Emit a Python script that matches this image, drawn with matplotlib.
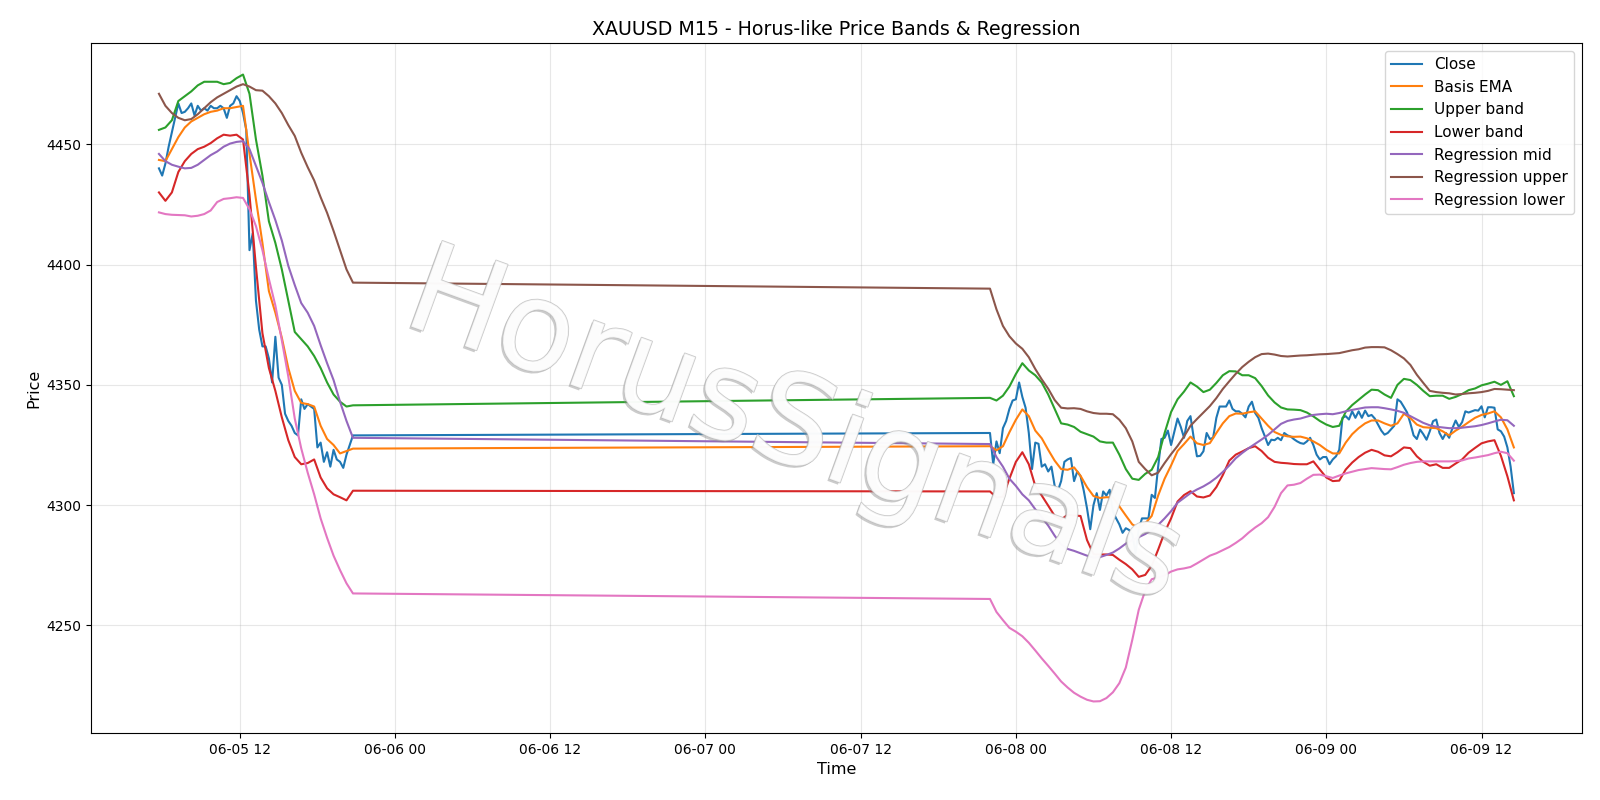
import pandas as pd
import matplotlib
matplotlib.use("Agg")
import matplotlib.pyplot as plt
import matplotlib.dates as mdates
import matplotlib.patheffects as pe

# Close price, M15 bars (Friday session, then from the Sunday open)
close_fri = [4440, 4437, 4442, 4449, 4455, 4461, 4467, 4463, 4463.5, 4465,
             4467, 4462, 4466, 4464, 4465, 4464, 4466, 4465, 4465, 4466,
             4465, 4461, 4466, 4467, 4470, 4468, 4463, 4456, 4406, 4413,
             4385, 4373, 4366, 4366, 4361, 4351, 4370, 4353, 4350, 4338,
             4335, 4333, 4330, 4329, 4344, 4340, 4342, 4341, 4340, 4324,
             4326, 4318, 4322, 4316, 4323, 4319, 4318, 4315.5, 4321, 4325, 4329]
close_sun = [4330, 4317, 4326.5, 4321.6, 4332, 4335, 4340, 4343.5, 4344, 4351,
             4345, 4340.5, 4330, 4315, 4326, 4325.5, 4316, 4317, 4314, 4316,
             4308, 4306, 4310, 4318, 4319, 4319.6, 4310, 4314, 4312, 4306,
             4298.7, 4290, 4300, 4305, 4298, 4305.7, 4304, 4306.4, 4297.3, 4294.5,
             4292, 4288.5, 4290.4, 4289.7, 4288, 4280, 4290, 4294.5, 4294.5, 4294.5,
             4304.3, 4303, 4316, 4327.5, 4328, 4331, 4325, 4330.5, 4336, 4332.5,
             4328, 4335, 4337, 4328, 4320.3, 4320.5, 4322.4, 4330, 4327.5, 4328,
             4336.3, 4341, 4341, 4341, 4343.5, 4340, 4339, 4339, 4338, 4336.5,
             4341, 4343, 4338.3, 4336.3, 4332, 4328.6, 4325, 4327.2, 4327, 4328,
             4327, 4330, 4329, 4328.5, 4327.4, 4326.5, 4325.8, 4325.5, 4326.5, 4328,
             4325, 4321, 4319, 4320, 4320, 4317, 4319, 4320.3, 4323, 4336.3,
             4337, 4335.6, 4339, 4336.3, 4339, 4336.3, 4339.3, 4337, 4337.5, 4336,
             4333.5, 4331, 4329.3, 4330, 4331.5, 4333, 4344, 4343, 4340.8, 4338.5,
             4334, 4329, 4327.5, 4331.4, 4329.5, 4327.2, 4330.7, 4334.9, 4335.6, 4330,
             4327.5, 4330, 4328, 4332, 4335.2, 4332.5, 4334.5, 4339, 4338.5, 4339,
             4339.5, 4339.3, 4341.1, 4336.5, 4340.7, 4340.7, 4340.5, 4331.5, 4330.7, 4328.5,
             4324, 4316, 4305]

# indicator lines, read every 30 minutes
ema = [4443.5, 4443, 4448, 4453, 4457, 4459.5, 4461, 4462.5, 4463.5, 4464,
       4465, 4465, 4465.5, 4466, 4446, 4427, 4409, 4389, 4380, 4369.6,
       4357, 4347.5, 4342.5, 4342, 4341, 4333, 4327.5, 4325, 4321.5, 4322.5, 4323.5,
       4324.5, 4322.8, 4324.5, 4330.3, 4335.5, 4339.8, 4337, 4331, 4327.8, 4323,
       4318.5, 4315, 4314.7, 4315.7, 4312.2, 4307.5, 4303.8, 4303, 4303.3, 4303.2,
       4299.5, 4295.7, 4292, 4290.5, 4292.4, 4295.5, 4304, 4311, 4316.5, 4322.5,
       4325.4, 4328.5, 4325.7, 4325, 4325.8, 4330, 4334, 4337, 4338.1, 4338,
       4338.6, 4339, 4336, 4333, 4330.4, 4329.2, 4328.6, 4328.4, 4328.5, 4327.8,
       4326.5, 4325, 4323, 4321.5, 4321.5, 4326, 4329.5, 4332, 4334, 4335.2,
       4335.2, 4334, 4333, 4334, 4338, 4336.2, 4333.5, 4332.4, 4332.2, 4332,
       4330.7, 4329, 4331, 4332.6, 4334.5, 4336.3, 4337.5, 4338.1, 4339, 4336.5,
       4331.5, 4324]
upper = [4456, 4457, 4460, 4468, 4470, 4472, 4474.5, 4476, 4476, 4476,
         4475, 4475.5, 4477.5, 4479, 4471, 4452, 4437, 4418, 4409, 4398,
         4385, 4372, 4369, 4366, 4362, 4357, 4351, 4346, 4343, 4341, 4341.5,
         4344.6, 4343.5, 4345.5, 4349.3, 4354.5, 4359, 4356, 4354, 4351, 4346,
         4340, 4334, 4333.5, 4332.5, 4330.5, 4329.5, 4328.5, 4326.5, 4326, 4326,
         4321, 4315, 4311, 4310.5, 4313, 4314.7, 4320, 4330, 4338.7, 4344,
         4347.2, 4351, 4349.3, 4347, 4348, 4350.8, 4354, 4355.7, 4355.6, 4354,
         4354, 4352.8, 4349.5, 4345.6, 4342.7, 4340.6, 4339.8, 4339.7, 4339.5, 4338.5,
         4336.9, 4335, 4333.5, 4332.5, 4333, 4338.8, 4341.6, 4343.8, 4346, 4348,
         4347.8, 4346, 4344.6, 4350, 4352.5, 4352, 4350, 4347.5, 4345.3, 4345.5,
         4345.5, 4344.2, 4345, 4346.2, 4347.8, 4348.5, 4349.8, 4350.5, 4351.3, 4350,
         4351.5, 4345.3]
lower = [4430, 4426.5, 4430, 4438.5, 4443, 4446, 4448, 4449, 4450.5, 4452.5,
         4454, 4453.6, 4454, 4452, 4429, 4399, 4371.5, 4357, 4347.5, 4336.5,
         4327, 4320, 4317, 4317.5, 4319, 4311.5, 4307, 4304.5, 4303.3, 4302, 4306,
         4305.7, 4303.2, 4303.5, 4311, 4318, 4322, 4317, 4308, 4304, 4299.8,
         4295.5, 4294, 4296, 4295.7, 4295.5, 4285.5, 4279.6, 4279.5, 4279.5, 4279.3,
         4277.3, 4275.5, 4273.3, 4270.2, 4271, 4274.8, 4281.5, 4288.7, 4294.5, 4301.5,
         4304.2, 4305.8, 4303.6, 4303.2, 4304, 4307.5, 4312.5, 4318.5, 4321, 4322.3,
         4323.7, 4324.5, 4322.5, 4319.7, 4318, 4317.6, 4317.4, 4317.1, 4317, 4317,
         4318.2, 4314.8, 4311.5, 4310, 4310.2, 4314.8, 4317.7, 4320, 4321.8, 4323,
         4322.2, 4320.7, 4320.3, 4322, 4324, 4323.7, 4320.3, 4318, 4316.4, 4317,
         4315.5, 4315.5, 4317.3, 4319, 4321.8, 4323.8, 4325.7, 4326.5, 4327, 4320.5,
         4312, 4302]
reg_mid = [4446, 4443, 4441.5, 4440.7, 4440, 4440.2, 4441.5, 4443.5, 4445.5, 4447,
           4449, 4450.3, 4451, 4451.3, 4448, 4441, 4434, 4426, 4418.5, 4410,
           4399.5, 4391.5, 4384, 4380, 4374.5, 4366.5, 4359, 4352, 4343, 4335, 4328,
           4325.4, 4320, 4316, 4311, 4308, 4304.5, 4302, 4298.3, 4295, 4291.5,
           4287.3, 4283.7, 4281.8, 4281, 4280, 4279, 4278.2, 4278.4, 4279.3, 4280.3,
           4282, 4284, 4285.5, 4286.7, 4288, 4289.6, 4291.8, 4294.5, 4297.5, 4301,
           4303, 4305, 4306.5, 4307.8, 4309.4, 4311.4, 4313.8, 4316.5, 4319.5, 4321.7,
           4323.7, 4325.5, 4327.3, 4329.2, 4331.5, 4333.8, 4335, 4335.6, 4336, 4336.8,
           4337.5, 4337.8, 4338, 4337.8, 4338.3, 4339, 4339.6, 4340.1, 4340.6, 4340.7,
           4340.7, 4340.3, 4339.8, 4339.2, 4338.4, 4337, 4335.6, 4334.2, 4333.2, 4332.6,
           4332.3, 4332, 4332, 4332.2, 4332.5, 4332.8, 4333.3, 4334, 4334.8, 4335.5,
           4335.3, 4333]
reg_upper = [4471, 4466, 4463, 4461, 4460, 4460.5, 4462.5, 4465, 4467.5, 4469.5,
             4471, 4472.5, 4474, 4475, 4474, 4472.5, 4472.3, 4470, 4467, 4463,
             4458, 4453.5, 4446.5, 4440.5, 4435, 4428, 4421.5, 4414, 4406, 4398, 4392.5,
             4390, 4381.4, 4374.5, 4370.2, 4367.2, 4365, 4361.5, 4356.6, 4352.3, 4348.4,
             4343.7, 4340.5, 4340.2, 4340.3, 4340, 4339, 4338.3, 4338, 4338, 4337.8,
             4335.5, 4332, 4326.5, 4318, 4315, 4312.4, 4313.5, 4317.5, 4321.2, 4324.6,
             4328.5, 4333, 4335.8, 4338.5, 4341.2, 4344.5, 4348.3, 4351.5, 4354.6, 4357.4,
             4359.6, 4361.5, 4362.8, 4363, 4362.6, 4362, 4361.8, 4362, 4362.2, 4362.3,
             4362.5, 4362.7, 4362.8, 4363, 4363.2, 4363.8, 4364.4, 4364.8, 4365.5, 4365.7,
             4365.7, 4365.6, 4364.4, 4362.8, 4361, 4358.3, 4354.2, 4350.8, 4347.5, 4347,
             4346.7, 4346.5, 4346, 4346.2, 4346.5, 4346.7, 4347, 4347.5, 4348.3, 4348.2,
             4348, 4347.8]
reg_lower = [4421.7, 4421, 4420.7, 4420.6, 4420.5, 4420, 4420.3, 4421, 4422.5, 4426,
             4427.3, 4427.6, 4428, 4427.7, 4423, 4416, 4406, 4394, 4383, 4368.5,
             4353.5, 4336, 4323.6, 4313.5, 4304.5, 4294.5, 4286.4, 4279, 4273, 4267.5, 4263.3,
             4261, 4255.6, 4252.2, 4249, 4247.4, 4245.5, 4242.8, 4239.6, 4236.3, 4233.2,
             4230, 4226.7, 4224.2, 4222, 4220.4, 4219.1, 4218.4, 4218.5, 4219.8, 4222.2,
             4226, 4232.5, 4244, 4256.5, 4264.5, 4269.2, 4270, 4270.8, 4272.4, 4273.3,
             4273.7, 4274.3, 4275.8, 4277.4, 4279, 4280, 4281.3, 4282.6, 4284.3, 4286.2,
             4288.6, 4290.7, 4292.5, 4295, 4299.3, 4305, 4308.2, 4308.5, 4309.2, 4311,
             4312.6, 4312.7, 4312, 4311.3, 4312.3, 4313.2, 4313.9, 4314.6, 4315, 4315.4,
             4315.2, 4315, 4314.9, 4315.8, 4316.8, 4317.5, 4318, 4318.2, 4318.2, 4318.2,
             4318.2, 4318.2, 4318.3, 4318.6, 4319.4, 4319.8, 4320.3, 4320.8, 4321.6, 4322.2,
             4321.6, 4318.5]

# bar times
t_fri = pd.date_range("2026-06-05 05:45", periods=len(close_fri), freq="15min")
t_sun = pd.date_range("2026-06-07 22:00", periods=len(close_sun), freq="15min")
t_close = t_fri.append(t_sun)
t_ind = t_fri[::2].append(t_sun[::2])
close = close_fri + close_sun

fig, ax = plt.subplots(figsize=(16, 8), dpi=100)
fig.subplots_adjust(left=0.057, right=0.9885, top=0.946, bottom=0.084)

ax.plot(t_close, close, label="Close")
ax.plot(t_ind, ema, label="Basis EMA")
ax.plot(t_ind, upper, label="Upper band")
ax.plot(t_ind, lower, label="Lower band")
ax.plot(t_ind, reg_mid, label="Regression mid")
ax.plot(t_ind, reg_upper, label="Regression upper")
ax.plot(t_ind, reg_lower, label="Regression lower")

ax.xaxis.set_major_locator(mdates.HourLocator(byhour=[0, 12]))
ax.xaxis.set_major_formatter(mdates.DateFormatter("%m-%d %H"))
ax.grid(True, alpha=0.3)
ax.set_title("XAUUSD M15 - Horus-like Price Bands & Regression", fontsize=13.7)
ax.set_xlabel("Time", fontsize=11.5)
ax.set_ylabel("Price", fontsize=11.5)
ax.legend(loc="upper right", fontsize=11)

# watermark: white letters, thin grey edge and a faint shadow
ax.text(0.472, 0.44, "HorusSignals", transform=ax.transAxes,
        ha="center", va="center", rotation=-20, fontsize=90,
        color="white", alpha=0.8, zorder=10,
        path_effects=[pe.SimplePatchShadow(offset=(-1.5, -1.5), shadow_rgbFace="#8c8c8c", alpha=0.45),
                      pe.withStroke(linewidth=1.2, foreground="#bdbdbd")])

fig.savefig("out.png", dpi=100)
